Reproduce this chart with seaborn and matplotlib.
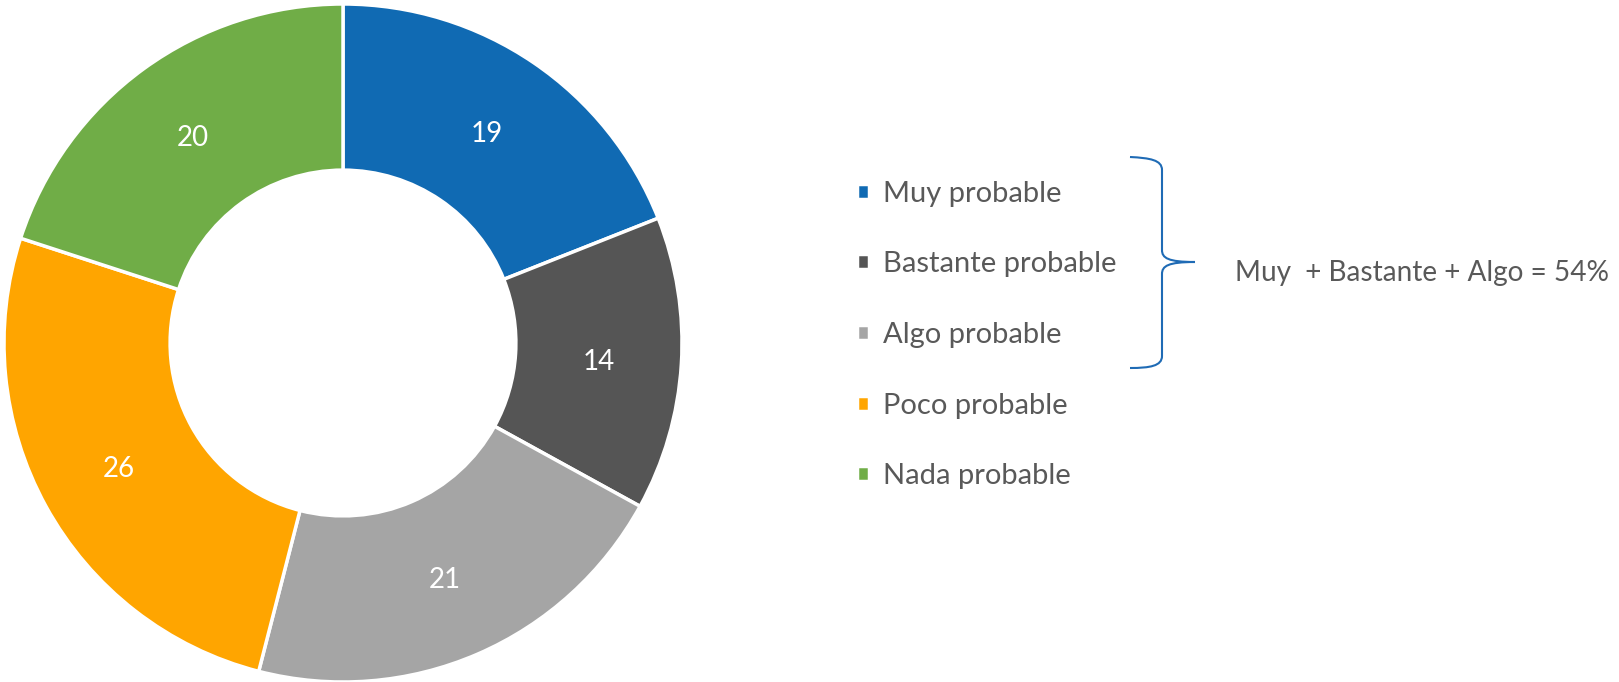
import numpy as np
import seaborn as sns
import matplotlib.pyplot as plt
from matplotlib.path import Path
from matplotlib.patches import PathPatch

# Data
categories = ['Muy probable', 'Bastante probable', 'Algo probable', 'Poco probable', 'Nada probable']
values = [19, 14, 21, 26, 20]
colors = ['#106AB3', '#555555', '#A5A5A5', '#FFA500', '#70AD47']
summary_prefix = 'Muy  + Bastante + Algo = '

sns.set_theme(style='white')
plt.rcParams['font.family'] = ['Lato', 'DejaVu Sans']

W, H = 1619, 682
fig = plt.figure(figsize=(W / 100, H / 100), dpi=100)


def px(x, y):
    # pixel coords (from top-left) to figure fraction
    return x / W, 1 - y / H


# Donut
cx, cy, r = 343, 343, 339
ax = fig.add_axes([(cx - r) / W, (H - cy - r) / H, 2 * r / W, 2 * r / H])
wedges, texts = ax.pie(values, colors=colors, startangle=90, counterclock=False,
                       labels=[str(v) for v in values], labeldistance=0.755,
                       wedgeprops=dict(width=0.49, edgecolor='white', linewidth=2.5),
                       textprops=dict(color='white', fontsize=20, ha='center',
                                      va='center_baseline'))
ax.set_xlim(-1, 1)
ax.set_ylim(-1, 1)
ax.set_aspect('equal')
ax.axis('off')

# Legend
lx, ly = px(857, 335)
leg = fig.legend(wedges, categories, loc='center left', bbox_to_anchor=(lx, ly),
                 bbox_transform=fig.transFigure, frameon=False, fontsize=21,
                 handlelength=0.41, handleheight=0.41, handletextpad=0.48,
                 labelspacing=1.53, borderpad=0, borderaxespad=0)
for t in leg.get_texts():
    t.set_color('#595959')

# Curly brace
pts = [(1130, 157), (1150, 158), (1162, 160), (1162, 170),
       (1162, 250),
       (1162, 258), (1168, 262), (1195, 262),
       (1168, 262), (1162, 266), (1162, 274),
       (1162, 356),
       (1162, 366), (1150, 368), (1130, 368)]
codes = [Path.MOVETO, Path.CURVE4, Path.CURVE4, Path.CURVE4,
         Path.LINETO,
         Path.CURVE4, Path.CURVE4, Path.CURVE4,
         Path.CURVE4, Path.CURVE4, Path.CURVE4,
         Path.LINETO,
         Path.CURVE4, Path.CURVE4, Path.CURVE4]
brace = PathPatch(Path([px(*p) for p in pts], codes), transform=fig.transFigure,
                  fill=False, edgecolor='#1F6BB5', linewidth=1.5)
fig.patches.append(brace)

total = sum(values[:3])
tx, ty = px(1235, 281)
fig.text(tx, ty, f'{summary_prefix}{total}%', fontsize=20.2, color='#595959',
         ha='left', va='baseline')

fig.savefig('out.png', dpi=100)
